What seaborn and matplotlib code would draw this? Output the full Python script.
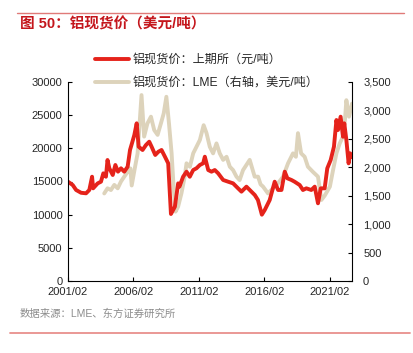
import numpy as np
import pandas as pd
import seaborn as sns
import matplotlib.pyplot as plt

sns.set_style("white")
plt.rcParams['font.family'] = ['Liberation Sans', 'Noto Sans CJK SC', 'DejaVu Sans']

# SHFE aluminium spot (yuan/t)
shfe_t = [2001.08, 2001.44, 2001.7, 2002.08, 2002.46, 2002.71, 2002.92, 2003.0, 2003.35, 2003.6,
          2003.78, 2003.98, 2004.1, 2004.24, 2004.5, 2004.7, 2004.9, 2005.13, 2005.38, 2005.64,
          2005.82, 2005.97, 2006.15, 2006.33, 2006.48, 2006.78, 2007.04, 2007.29, 2007.47, 2007.75,
          2007.99, 2008.23, 2008.49, 2008.74, 2008.95, 2009.25, 2009.5, 2009.6, 2009.88, 2010.14,
          2010.39, 2010.65, 2010.9, 2011.16, 2011.41, 2011.54, 2011.8, 2012.05, 2012.3, 2012.56,
          2012.94, 2013.32, 2013.7, 2014.08, 2014.34, 2014.72, 2015.1, 2015.36, 2015.6, 2015.9,
          2016.12, 2016.5, 2016.88, 2017.14, 2017.4, 2017.65, 2017.85, 2018.16, 2018.4, 2018.79,
          2019.04, 2019.3, 2019.68, 2019.94, 2020.19, 2020.4, 2020.7, 2020.9, 2021.16, 2021.41,
          2021.6, 2021.72, 2021.92, 2022.1, 2022.2, 2022.36, 2022.53, 2022.65, 2022.79]
shfe_v = [14970, 14470, 13720, 13300, 13220, 13720, 15720, 13970, 14720, 14970,
          16230, 15720, 18240, 16990, 15980, 17490, 16480, 16990, 16480, 17230,
          19750, 20760, 22010, 23770, 20250, 19750, 20500, 21000, 20250, 19000,
          19490, 19750, 18740, 17740, 10100, 11200, 14720, 14220, 15720, 16480,
          15720, 16730, 16990, 17490, 17740, 18740, 16730, 16480, 16730, 16230,
          15230, 14970, 14720, 13970, 13470, 14220, 13470, 12960, 12210, 10000,
          10700, 12210, 14970, 13720, 13720, 16480, 15480, 15230, 14970, 14470,
          13720, 13970, 13720, 14220, 11710, 13970, 13970, 16990, 18240, 20250,
          24270, 22760, 24770, 21750, 23770, 21250, 17740, 19250, 18700]

# LME aluminium spot (usd/t, right axis)
lme_t = [2003.85, 2004.1, 2004.36, 2004.62, 2004.88, 2005.13, 2005.38, 2005.64, 2005.85, 2005.95,
         2006.2, 2006.4, 2006.7, 2006.9, 2007.15, 2007.42, 2007.67, 2007.93, 2008.18, 2008.4,
         2008.6, 2008.8, 2009.0, 2009.15, 2009.3, 2009.5, 2009.75, 2010.0, 2010.14, 2010.4,
         2010.65, 2010.9, 2011.16, 2011.45, 2011.67, 2011.92, 2012.17, 2012.43, 2012.68, 2012.94,
         2013.2, 2013.45, 2013.7, 2013.96, 2014.2, 2014.46, 2014.97, 2015.35, 2015.61, 2015.8,
         2015.99, 2016.37, 2016.75, 2017.14, 2017.52, 2017.9, 2018.28, 2018.5, 2018.66, 2018.9,
         2019.17, 2019.42, 2019.8, 2020.19, 2020.45, 2020.7, 2021.1, 2021.34, 2021.6, 2021.85,
         2022.1, 2022.25, 2022.36, 2022.56, 2022.79]
lme_v = [1540, 1630, 1600, 1690, 1630, 1750, 1835, 1920, 1980, 1680,
         2000, 2245, 3270, 2540, 2770, 2890, 2655, 2570, 2770, 2950,
         3240, 2770, 2245, 1660, 1220, 1310, 1540, 1835, 2070, 2010,
         2245, 2360, 2480, 2740, 2600, 2360, 2245, 2420, 2245, 2130,
         2185, 2010, 1950, 1835, 1775, 1950, 2130, 1835, 1835, 1700,
         1660, 1540, 1630, 1720, 1835, 2070, 2245, 2185, 2600, 2245,
         2185, 2010, 1920, 1835, 1425, 1500, 1660, 1950, 2245, 2420,
         2540, 2830, 3180, 2890, 3120]

shfe = pd.DataFrame({"t": shfe_t, "v": shfe_v})
lme = pd.DataFrame({"t": lme_t, "v": lme_v})

x_ticks = [2001.08, 2006.08, 2011.08, 2016.08, 2021.08]
x_labels = ["2001/02", "2006/02", "2011/02", "2016/02", "2021/02"]

red = "#e5231b"
tan = "#ddd3bb"

fig = plt.figure(figsize=(4.14, 3.53), dpi=100)
ax = fig.add_axes([68 / 414, 1 - 281 / 353, 284 / 414, 199 / 353])
ax2 = ax.twinx()

sns.lineplot(data=lme, x="t", y="v", ax=ax2, color=tan, lw=2.8, label="铝现货价：LME（右轴，美元/吨）", legend=False)
sns.lineplot(data=shfe, x="t", y="v", ax=ax, color=red, lw=2.8, label="铝现货价：上期所（元/吨）", legend=False)

# red line above the twin axis
ax.set_zorder(ax2.get_zorder() + 1)
ax.patch.set_visible(False)

ax.set_xlim(2001.08, 2022.79)
ax.set_ylim(0, 30000)
ax2.set_ylim(0, 3500)
ax.set_yticks(range(0, 30001, 5000))
ax2.set_yticks(range(0, 3501, 500))
ax2.set_yticklabels([f"{v:,}" for v in range(0, 3501, 500)])
ax.set_xticks(x_ticks)
ax.set_xticklabels(x_labels)
ax.set_xlabel("")
ax.set_ylabel("")
ax2.set_ylabel("")

for a in (ax, ax2):
    a.spines["top"].set_visible(False)
    for s in ("left", "right", "bottom"):
        a.spines[s].set_color("black")
        a.spines[s].set_linewidth(0.8)
    a.tick_params(direction="in", length=3, width=0.8, labelsize=8, color="black", pad=4)
ax.spines["right"].set_visible(False)
ax2.spines["left"].set_visible(False)
ax2.spines["bottom"].set_visible(False)
ax.tick_params(axis="y", left=True)
ax.tick_params(axis="x", bottom=True)
ax2.tick_params(axis="y", right=True, pad=8)

h1, l1 = ax.get_legend_handles_labels()
h2, l2 = ax2.get_legend_handles_labels()
fig.legend(h1 + h2, l1 + l2, loc="upper left", bbox_to_anchor=(95 / 414, 1 - 54 / 353),
           frameon=False, fontsize=8.7, handlelength=2.8, labelspacing=0.9, handletextpad=0.3,
           borderpad=0, borderaxespad=0)

fig.text(20 / 414, 1 - 24 / 353, "图 50：铝现货价（美元/吨）", color="#c4161c", fontsize=10.5,
         fontweight="bold", va="center", ha="left")
fig.text(20 / 414, 1 - 314 / 353, "数据来源：LME、东方证券研究所", color="#8c8c8c", fontsize=7.5,
         va="center", ha="left")
fig.add_artist(plt.Line2D([17 / 414, 404 / 414], [1 - 13 / 353, 1 - 13 / 353], color="#e07a78", lw=1))
fig.add_artist(plt.Line2D([10 / 414, 410 / 414], [1 - 333 / 353, 1 - 333 / 353], color="#e8908c", lw=1.3))

fig.savefig("out.png", dpi=100)
